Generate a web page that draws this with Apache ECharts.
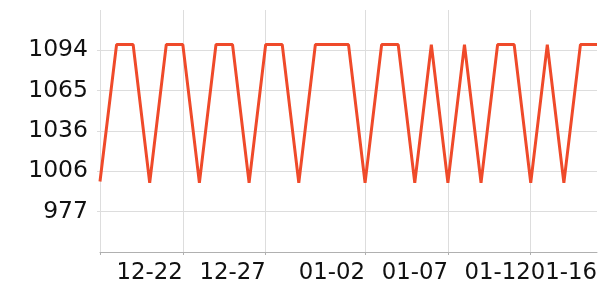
<!DOCTYPE html>
<html>
<head>
<meta charset="utf-8">
<script src="https://cdn.jsdelivr.net/npm/echarts@6/dist/echarts.min.js"></script>
<style>html,body{margin:0;padding:0;background:#fff}#c{width:600px;height:300px}</style>
</head>
<body>
<div id="c"></div>
<script>
const dates = ['12-17','12-18','12-19','12-20','12-21','12-22','12-23','12-24','12-25','12-26','12-27','12-28','12-29','12-30','12-31',
  '01-01','01-02','01-03','01-04','01-05','01-06','01-07','01-08','01-09','01-10','01-11','01-12','01-13','01-14','01-15','01-16'];
const values = [999,1098,1098,998,1098,1098,998,1098,1098,998,1098,1098,998,1098,1098,1098,998,1098,1098,998,1098,998,1098,998,1098,1098,998,1098,998,1098,1098];
const xLabelDates = ['12-22','12-27','01-02','01-07','01-12','01-16'];
const xTickDates = ['12-17','12-22','12-27','01-02','01-07','01-12'];
const yMin = 948, yMax = 1123, ySplits = 6;
const yTickValues = [1,2,3,4,5].map(i => yMin + i * (yMax - yMin) / ySplits);

const chart = echarts.init(document.getElementById('c'), null, {renderer: 'canvas'});
const font = 'DejaVu Sans';
chart.setOption({
  animation: false,
  grid: {left: 100, right: 1, top: 10, bottom: 48, containLabel: false},
  xAxis: {
    type: 'category',
    data: dates,
    boundaryGap: false,
    axisLine: {show: true, lineStyle: {color: '#b0b0b0', width: 1}},
    axisTick: {show: true, length: 3, lineStyle: {color: '#b0b0b0'},
      interval: (i, v) => xTickDates.includes(v)},
    axisLabel: {show: true, align: 'right', margin: 10, color: '#111', fontFamily: font, fontSize: 22.8,
      hideOverlap: false,
      interval: (i, v) => xLabelDates.includes(v)},
    splitLine: {show: true, lineStyle: {color: '#dddddd', width: 1},
      interval: (i, v) => xTickDates.includes(v)}
  },
  yAxis: {
    type: 'value',
    min: yMin, max: yMax,
    axisLine: {show: false},
    axisTick: {show: true, length: 3, lineStyle: {color: '#dddddd'}, customValues: yTickValues},
    axisLabel: {show: true, margin: 12, color: '#111', fontFamily: font, fontSize: 23.5,
      customValues: yTickValues, formatter: v => String(Math.round(v))},
    splitLine: {show: true, lineStyle: {color: '#dddddd', width: 1}}
  },
  series: [{
    type: 'line',
    data: values,
    showSymbol: false,
    symbol: 'none',
    lineStyle: {color: '#ef4a2a', width: 3},
    itemStyle: {color: '#ef4a2a'}
  }]
});
</script>
</body>
</html>
